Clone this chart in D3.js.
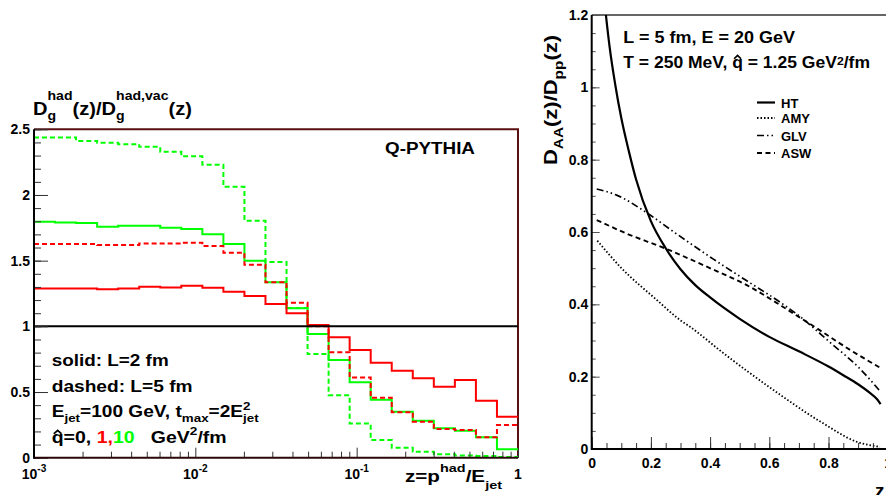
<!DOCTYPE html>
<html>
<head>
<meta charset="utf-8">
<script src="https://cdn.jsdelivr.net/npm/d3@7"></script>
<style>
  body { margin: 0; background: #fff; }
  text { font-family: "Liberation Sans", Arial, Helvetica, sans-serif; font-weight: bold; white-space: pre; }
</style>
</head>
<body>
<svg id="chart" width="886" height="495"></svg>
<script>
// ---- left panel: Q-PYTHIA ratio, 23 log bins between 1e-3 and 1 ----
const redSolid = [1.289, 1.289, 1.289, 1.282, 1.289, 1.301, 1.296, 1.309, 1.294, 1.263, 1.231, 1.170,
  1.099, 1.010, 0.916, 0.820, 0.723, 0.662, 0.604, 0.540, 0.591, 0.434, 0.312];
const redDashed = [1.626, 1.626, 1.626, 1.619, 1.619, 1.630, 1.630, 1.636, 1.611, 1.560, 1.469, 1.335,
  1.180, 1.000, 0.802, 0.610, 0.457, 0.346, 0.274, 0.218, 0.211, 0.155, 0.249];
const greenSolid = [1.796, 1.791, 1.786, 1.758, 1.766, 1.766, 1.750, 1.741, 1.702, 1.626, 1.500, 1.335,
  1.137, 0.941, 0.744, 0.574, 0.441, 0.350, 0.282, 0.224, 0.205, 0.155, 0.064];
const greenDashed = [2.438, 2.438, 2.410, 2.397, 2.387, 2.367, 2.329, 2.294, 2.230, 2.062, 1.804, 1.490,
  1.140, 0.789, 0.475, 0.260, 0.134, 0.075, 0.046, 0.026, 0.016, 0.013, 0.005];
const vacuumLine = [[1e-3, 1], [1, 1]];

const leftYTicks = [0, 0.5, 1, 1.5, 2, 2.5];
const leftYLabels = ["0", "0.5", "1", "1.5", "2", "2.5"];
const leftXTicks = [1e-3, 1e-2, 1e-1, 1];
const leftXLabels = [["10", "-3"], ["10", "-2"], ["10", "-1"], ["1", ""]];

// ---- right panel: D_AA/D_pp curves ----
const htZ = [0.044, 0.06, 0.08, 0.1, 0.125, 0.15, 0.2, 0.25, 0.3, 0.35, 0.4, 0.5, 0.6, 0.7, 0.8, 0.85, 0.9, 0.94, 0.965, 0.976];
const htV = [1.23, 1.115, 1.005, 0.915, 0.825, 0.745, 0.63, 0.555, 0.497, 0.453, 0.419, 0.36, 0.31, 0.27, 0.228, 0.204, 0.179, 0.155, 0.137, 0.124];
const amyZ = [0.019, 0.096, 0.22, 0.298, 0.332, 0.445, 0.614, 0.782, 0.895, 0.974];
const amyV = [0.576, 0.504, 0.412, 0.357, 0.338, 0.265, 0.163, 0.071, 0.02, 0.006];
const glvZ = [0.017, 0.084, 0.188, 0.276, 0.411, 0.524, 0.647, 0.704, 0.805, 0.906, 0.974];
const glvV = [0.719, 0.702, 0.652, 0.601, 0.525, 0.465, 0.40, 0.366, 0.295, 0.222, 0.16];
const aswZ = [0.017, 0.12, 0.253, 0.389, 0.524, 0.681, 0.76, 0.873, 0.974];
const aswV = [0.633, 0.595, 0.553, 0.504, 0.453, 0.375, 0.334, 0.274, 0.225];
const legendNames = ["HT", "AMY", "GLV", "ASW"];

const rightYTicks = [0, 0.2, 0.4, 0.6, 0.8, 1, 1.2];
const rightXTicks = [0, 0.2, 0.4, 0.6, 0.8, 1];

const svg = d3.select("#chart");
svg.append("rect").attr("width", 886).attr("height", 495).attr("fill", "#fff");

// text with sub/superscripts, each piece measured and placed in turn
function rich(parent, x, y, parts, opt = {}) {
  const size = opt.size || 16;
  const g = parent.append("g");
  let cx = 0;
  const put = (str, px, dy, fs, fill) => {
    const t = g.append("text").attr("x", px).attr("y", dy)
      .attr("font-size", fs).attr("fill", fill || "#000").text(str);
    return t.node().getComputedTextLength();
  };
  for (const p of parts) {
    if (typeof p === "string") { cx += put(p, cx, 0, size); continue; }
    if (p.t !== undefined) {
      const w = put(p.t, cx, 0, size, p.fill);
      if (p.hat) {
        g.append("path")
          .attr("d", `M${cx + w * 0.18},${-size * 0.6}L${cx + w * 0.5},${-size * 0.8}L${cx + w * 0.82},${-size * 0.6}`)
          .attr("fill", "none").attr("stroke", "#000").attr("stroke-width", 1.6);
      }
      cx += w; continue;
    }
    const s = size * (p.scale || 0.7);
    let w = 0;
    if (p.sup) w = Math.max(w, put(p.sup, cx, size * (p.supDy ?? opt.supDy ?? -0.45), s, p.fill));
    if (p.sub) w = Math.max(w, put(p.sub, cx, size * (p.subDy ?? opt.subDy ?? 0.3), s, p.fill));
    cx += w;
  }
  const k = opt.w ? opt.w / cx : (opt.sx || 1);
  let off = 0;
  if (opt.anchor === "middle") off = -cx * k / 2;
  if (opt.anchor === "end") off = -cx * k;
  g.attr("transform", `translate(${x},${y}) rotate(${opt.rotate || 0}) translate(${off},0) scale(${k},1)`);
  return g;
}

// ================= left panel =================
const xL = d3.scaleLog().domain([1e-3, 1]).range([34, 518]);
const yL = d3.scaleLinear().domain([0, 2.5]).range([457.7, 129.3]);
const zEdges = d3.range(24).map(i => Math.pow(10, -3 + (3 * i) / 23));
const steps = vals => vals.flatMap((v, i) => [[zEdges[i], v], [zEdges[i + 1], v]]);

const left = svg.append("g");

// frame (top and right)
left.append("path")
  .attr("d", `M${xL(1e-3)},${yL(2.5)}H${xL(1)}V${yL(0)}`)
  .attr("fill", "none").attr("stroke", "#5a1010").attr("stroke-width", 2);

const histLine = d3.line().x(d => xL(d[0])).y(d => yL(d[1]));
const histSeries = [
  { vals: greenSolid, color: "#00ff00", dash: null },
  { vals: greenDashed, color: "#00ff00", dash: "5,3" },
  { vals: redSolid, color: "#ff0000", dash: null },
  { vals: redDashed, color: "#ff0000", dash: "5,3" },
];
left.selectAll("path.hist")
  .data(histSeries)
  .join("path")
  .attr("class", "hist")
  .attr("d", d => histLine(steps(d.vals)))
  .attr("fill", "none")
  .attr("stroke", d => d.color)
  .attr("stroke-width", 2)
  .attr("stroke-dasharray", d => d.dash);

left.append("path")
  .attr("d", histLine(vacuumLine))
  .attr("stroke", "#000").attr("stroke-width", 2);

// axes
left.append("g")
  .attr("transform", "translate(34,0)")
  .call(d3.axisLeft(yL).tickValues(d3.range(0, 2.501, 0.1)).tickSize(-7).tickFormat(""))
  .call(g => g.select(".domain").remove())
  .call(g => g.selectAll("line").attr("stroke", "#333"));
left.append("g")
  .attr("transform", "translate(34,0)")
  .call(d3.axisLeft(yL).tickValues(leftYTicks).tickSize(-14).tickPadding(4)
    .tickFormat((d, i) => leftYLabels[i]))
  .call(g => g.select(".domain").remove())
  .call(g => g.selectAll("line").attr("stroke", "#333"))
  .call(g => g.selectAll("text").attr("font-size", 14).attr("fill", "#000")
    .attr("font-family", "Liberation Sans").attr("font-weight", "bold"));

const minorX = [];
for (const dec of [1e-3, 1e-2, 1e-1]) for (let m = 2; m <= 9; m++) minorX.push(dec * m);
left.append("g")
  .attr("transform", `translate(0,${yL(0)})`)
  .call(d3.axisBottom(xL).tickValues(minorX).tickSize(-6).tickFormat(""))
  .call(g => g.select(".domain").remove())
  .call(g => g.selectAll("line").attr("stroke", "#333"));
left.append("g")
  .attr("transform", `translate(0,${yL(0)})`)
  .call(d3.axisBottom(xL).tickValues(leftXTicks).tickSize(-10).tickFormat(""))
  .call(g => g.select(".domain").remove())
  .call(g => g.selectAll("line").attr("stroke", "#333"));

leftXTicks.forEach((t, i) => {
  const [base, exp] = leftXLabels[i];
  const parts = exp ? [base, { sup: exp, supDy: -0.5, scale: 0.72 }] : [base];
  rich(left, xL(t), 478.5, parts, { size: 14, anchor: "middle" });
});

left.append("path")
  .attr("d", `M${xL(1e-3)},${yL(0)}H${xL(1)}`)
  .attr("stroke", "#2a0808").attr("stroke-width", 2);
left.append("path")
  .attr("d", `M${xL(1e-3)},${yL(0) + 1}V${yL(2.5)}`)
  .attr("stroke", "#000").attr("stroke-width", 2);

// texts
rich(left, 33, 115, ["D", { sub: "g", sup: "had" }, "(z)/D", { sub: "g", sup: "had,vac" }, "(z)"],
  { size: 18, w: 159, supDy: -0.85, subDy: 0.28 });
rich(left, 385, 154, ["Q-PYTHIA"], { size: 17, w: 90 });
rich(left, 51.7, 365.7, ["solid: L=2 fm"], { size: 16, w: 117 });
rich(left, 51.7, 391.7, ["dashed: L=5 fm"], { size: 16, w: 141 });
rich(left, 51.7, 416.7, ["E", { sub: "jet" }, "=100 GeV, t", { sub: "max" }, "=2E", { sup: "2", sub: "jet" }],
  { size: 16, w: 207, supDy: -0.45, subDy: 0.32 });
rich(left, 51.7, 443.3, [{ t: "q", hat: true }, "=0, ", { t: "1,", fill: "#ff0000" }, { t: "10", fill: "#00ff00" },
  "   GeV", { sup: "2", supDy: -0.52 }, "/fm"], { size: 16, w: 175 });
rich(left, 405, 481.7, ["z=p", { sup: "had" }, "/E", { sub: "jet" }],
  { size: 16, w: 97, supDy: -0.62, subDy: 0.45 });

// ================= right panel =================
const xR = d3.scaleLinear().domain([0, 1]).range([591.7, 887.7]);
const yR = d3.scaleLinear().domain([0, 1.2]).range([449, 15]);
const right = svg.append("g");

right.append("clipPath").attr("id", "clipR")
  .append("rect").attr("x", xR(0)).attr("y", yR(1.2)).attr("width", xR(1) - xR(0)).attr("height", yR(0) - yR(1.2));

right.append("path")
  .attr("d", `M${xR(0)},${yR(1.2)}H886`)
  .attr("stroke", "#666").attr("stroke-width", 2);

const curveStyles = [
  { z: htZ, v: htV, dash: null, w: 2.2 },
  { z: amyZ, v: amyV, dash: "1.5,2", w: 1.8 },
  { z: glvZ, v: glvV, dash: "7,3,1.5,3,1.5,3", w: 1.7 },
  { z: aswZ, v: aswV, dash: "5,3.5", w: 1.9 },
];
const curve = d3.line().x(d => xR(d[0])).y(d => yR(d[1])).curve(d3.curveMonotoneX);
right.append("g").attr("clip-path", "url(#clipR)")
  .selectAll("path")
  .data(curveStyles)
  .join("path")
  .attr("d", d => curve(d.z.map((z, i) => [z, d.v[i]])))
  .attr("fill", "none")
  .attr("stroke", "#000")
  .attr("stroke-width", d => d.w)
  .attr("stroke-dasharray", d => d.dash);

// legend
const legY = [102.5, 118, 135.5, 153];
const leg = right.selectAll("g.leg").data(curveStyles).join("g").attr("class", "leg")
  .attr("transform", (d, i) => `translate(0,${legY[i]})`);
leg.append("path").attr("d", "M757,0H775")
  .attr("stroke", "#000").attr("stroke-width", d => d.w).attr("stroke-dasharray", d => d.dash);
leg.append("text").attr("x", 781).attr("y", 5).attr("font-size", 13).text((d, i) => legendNames[i]);

// axes
right.append("g")
  .attr("transform", `translate(${xR(0)},0)`)
  .call(d3.axisLeft(yR).tickValues(d3.range(0, 1.201, 0.05)).tickSize(-4).tickFormat(""))
  .call(g => g.select(".domain").remove())
  .call(g => g.selectAll("line").attr("stroke", "#555"));
right.append("g")
  .attr("transform", `translate(${xR(0)},0)`)
  .call(d3.axisLeft(yR).tickValues(rightYTicks).tickSize(-8).tickPadding(3.5).tickFormat(d3.format("~g")))
  .call(g => g.select(".domain").remove())
  .call(g => g.selectAll("line").attr("stroke", "#555"))
  .call(g => g.selectAll("text").attr("font-size", 14).attr("fill", "#000")
    .attr("font-family", "Liberation Sans").attr("font-weight", "bold"));
right.append("g")
  .attr("transform", `translate(0,${yR(0)})`)
  .call(d3.axisBottom(xR).tickValues(d3.range(0, 1.001, 0.05)).tickSize(-6).tickFormat(""))
  .call(g => g.select(".domain").remove())
  .call(g => g.selectAll("line").attr("stroke", "#333"));
right.append("g")
  .attr("transform", `translate(0,${yR(0)})`)
  .call(d3.axisBottom(xR).tickValues(rightXTicks).tickSize(-12).tickPadding(9.4).tickFormat(d3.format("~g")))
  .call(g => g.select(".domain").remove())
  .call(g => g.selectAll("line").attr("stroke", "#333"))
  .call(g => g.selectAll("text").attr("font-size", 14).attr("fill", "#000")
    .attr("font-family", "Liberation Sans").attr("font-weight", "bold"));

right.append("path").attr("d", `M${xR(0)},${yR(1.2)}V${yR(0)}H886`)
  .attr("fill", "none").attr("stroke", "#000").attr("stroke-width", 2);

rich(right, 623.3, 43.3, ["L = 5 fm, E = 20 GeV"], { size: 16, w: 171.7 });
rich(right, 623.3, 68.3, ["T = 250 MeV, ", { t: "q", hat: true }, " = 1.25 GeV", { sup: "2", supDy: -0.2 }, "/fm"],
  { size: 16, w: 246.7 });
rich(right, 557, 100, ["D", { sub: "AA" }, "(z)/D", { sub: "pp" }, "(z)"],
  { size: 19, w: 130, subDy: 0.3, rotate: -90, anchor: "middle" });
rich(right, 875, 497, ["z"], { size: 19 });
</script>
</body>
</html>
